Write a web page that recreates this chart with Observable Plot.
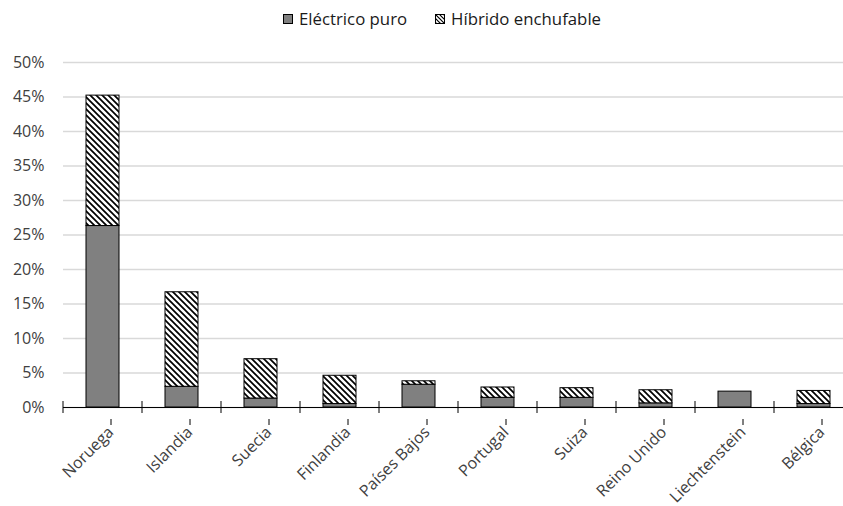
<!DOCTYPE html>
<html>
<head>
<meta charset="utf-8">
<script src="https://cdn.jsdelivr.net/npm/d3@7"></script>
<script src="https://cdn.jsdelivr.net/npm/@observablehq/plot@0.6"></script>
<style>
  html, body { margin: 0; padding: 0; background: #fff; }
  body { width: 843px; height: 506px; overflow: hidden; font-family: "Open Sans", sans-serif; }
  #legend { height: 35px; display: flex; justify-content: flex-start; align-items: center; font-size: 16.8px; color: #1a1a1a; padding-left: 283px; padding-top: 2px; box-sizing: border-box; }
  .item { display: flex; align-items: center; margin-right: 28px; }
  .sw { width: 10px; height: 10px; margin-right: 6px; display: block; }
  #chart { width: 843px; overflow: hidden; }
</style>
</head>
<body>
<svg width="0" height="0" style="position:absolute">
  <defs>
    <pattern id="hatch" patternUnits="userSpaceOnUse" width="6" height="6">
      <rect width="6" height="6" fill="#fff"/>
      <path d="M0,0 L6,6 M-1,5 L1,7 M5,-1 L7,1" stroke="#000" stroke-width="1.7"/>
    </pattern>
    <pattern id="hatchsm" patternUnits="userSpaceOnUse" width="4" height="4">
      <rect width="4" height="4" fill="#fff"/>
      <path d="M0,0 L4,4 M-1,3 L1,5 M3,-1 L5,1" stroke="#000" stroke-width="1.2"/>
    </pattern>
  </defs>
</svg>
<div id="legend"></div>
<div id="chart"></div>
<script>
const countries = ["Noruega", "Islandia", "Suecia", "Finlandia", "Países Bajos", "Portugal", "Suiza", "Reino Unido", "Liechtenstein", "Bélgica"];
const electrico = [26.3, 3.0, 1.3, 0.5, 3.3, 1.4, 1.4, 0.6, 2.3, 0.5];
const hibrido = [18.9, 13.7, 5.7, 4.1, 0.5, 1.5, 1.4, 1.9, 0, 1.9];
const seriesNames = ["Eléctrico puro", "Híbrido enchufable"];
const yTicks = [0, 5, 10, 15, 20, 25, 30, 35, 40, 45, 50];

const data = countries.map((c, i) => ({country: c, electrico: electrico[i], hibrido: hibrido[i], total: electrico[i] + hibrido[i]}));

// legend
const legend = document.getElementById("legend");
const fills = ["#808080", "url(#hatchsm)"];
seriesNames.forEach((name, i) => {
  const item = document.createElement("div");
  item.className = "item";
  item.innerHTML = `<svg class="sw" width="10" height="10"><rect x="0.5" y="0.5" width="9" height="9" fill="${fills[i]}" stroke="#000" stroke-width="1"/></svg><span>${name}</span>`;
  legend.appendChild(item);
});

function boundaryTicks(index, scales, values, dims) {
  const x = scales.x, y = scales.y;
  const bw = typeof x.bandwidth === "function" ? x.bandwidth() : x.bandwidth;
  const step = x(countries[1]) - x(countries[0]);
  const centers = countries.map(c => x(c) + bw / 2);
  const bounds = centers.map(c => c - step / 2).concat([centers[centers.length - 1] + step / 2]);
  const y0 = y(0);
  const g = d3.create("svg:g");
  g.selectAll("line").data(bounds).join("line")
    .attr("x1", d => d).attr("x2", d => d)
    .attr("y1", y0 - 6).attr("y2", y0 + 6)
    .attr("stroke", "#000").attr("stroke-width", 1);
  return g.node();
}

const chart = Plot.plot({
  width: 853,
  height: 471,
  marginTop: 27,
  marginLeft: 63,
  marginRight: 0,
  marginBottom: 99,
  style: {fontFamily: "Open Sans, sans-serif", fontSize: "16px", color: "#404040", background: "#fff", maxWidth: "none"},
  x: {domain: countries, paddingInner: 0.58, paddingOuter: 0.29, label: null},
  y: {domain: [0, 50], label: null},
  marks: [
    Plot.gridY(yTicks, {stroke: "#d9d9d9", strokeOpacity: 1, strokeWidth: 1.5}),
    Plot.axisY(yTicks, {tickSize: 0, tickPadding: 19, tickFormat: d => d + "%", fill: "#404040", label: null}),
    Plot.barY(data, {x: "country", y1: 0, y2: "electrico", fill: "#808080", stroke: "#000", strokeWidth: 1}),
    Plot.barY(data.filter(d => d.hibrido > 0), {x: "country", y1: "electrico", y2: "total", fill: "url(#hatch)", stroke: "#000", strokeWidth: 1}),
    Plot.ruleY([0], {stroke: "#000", strokeWidth: 1}),
    boundaryTicks,
    Plot.axisX({tickSize: 6, tickPadding: 4, tickRotate: -45, dx: 8, dy: 12, stroke: "#000", fill: "#404040", label: null})
  ]
});
document.getElementById("chart").appendChild(chart);
</script>
</body>
</html>
